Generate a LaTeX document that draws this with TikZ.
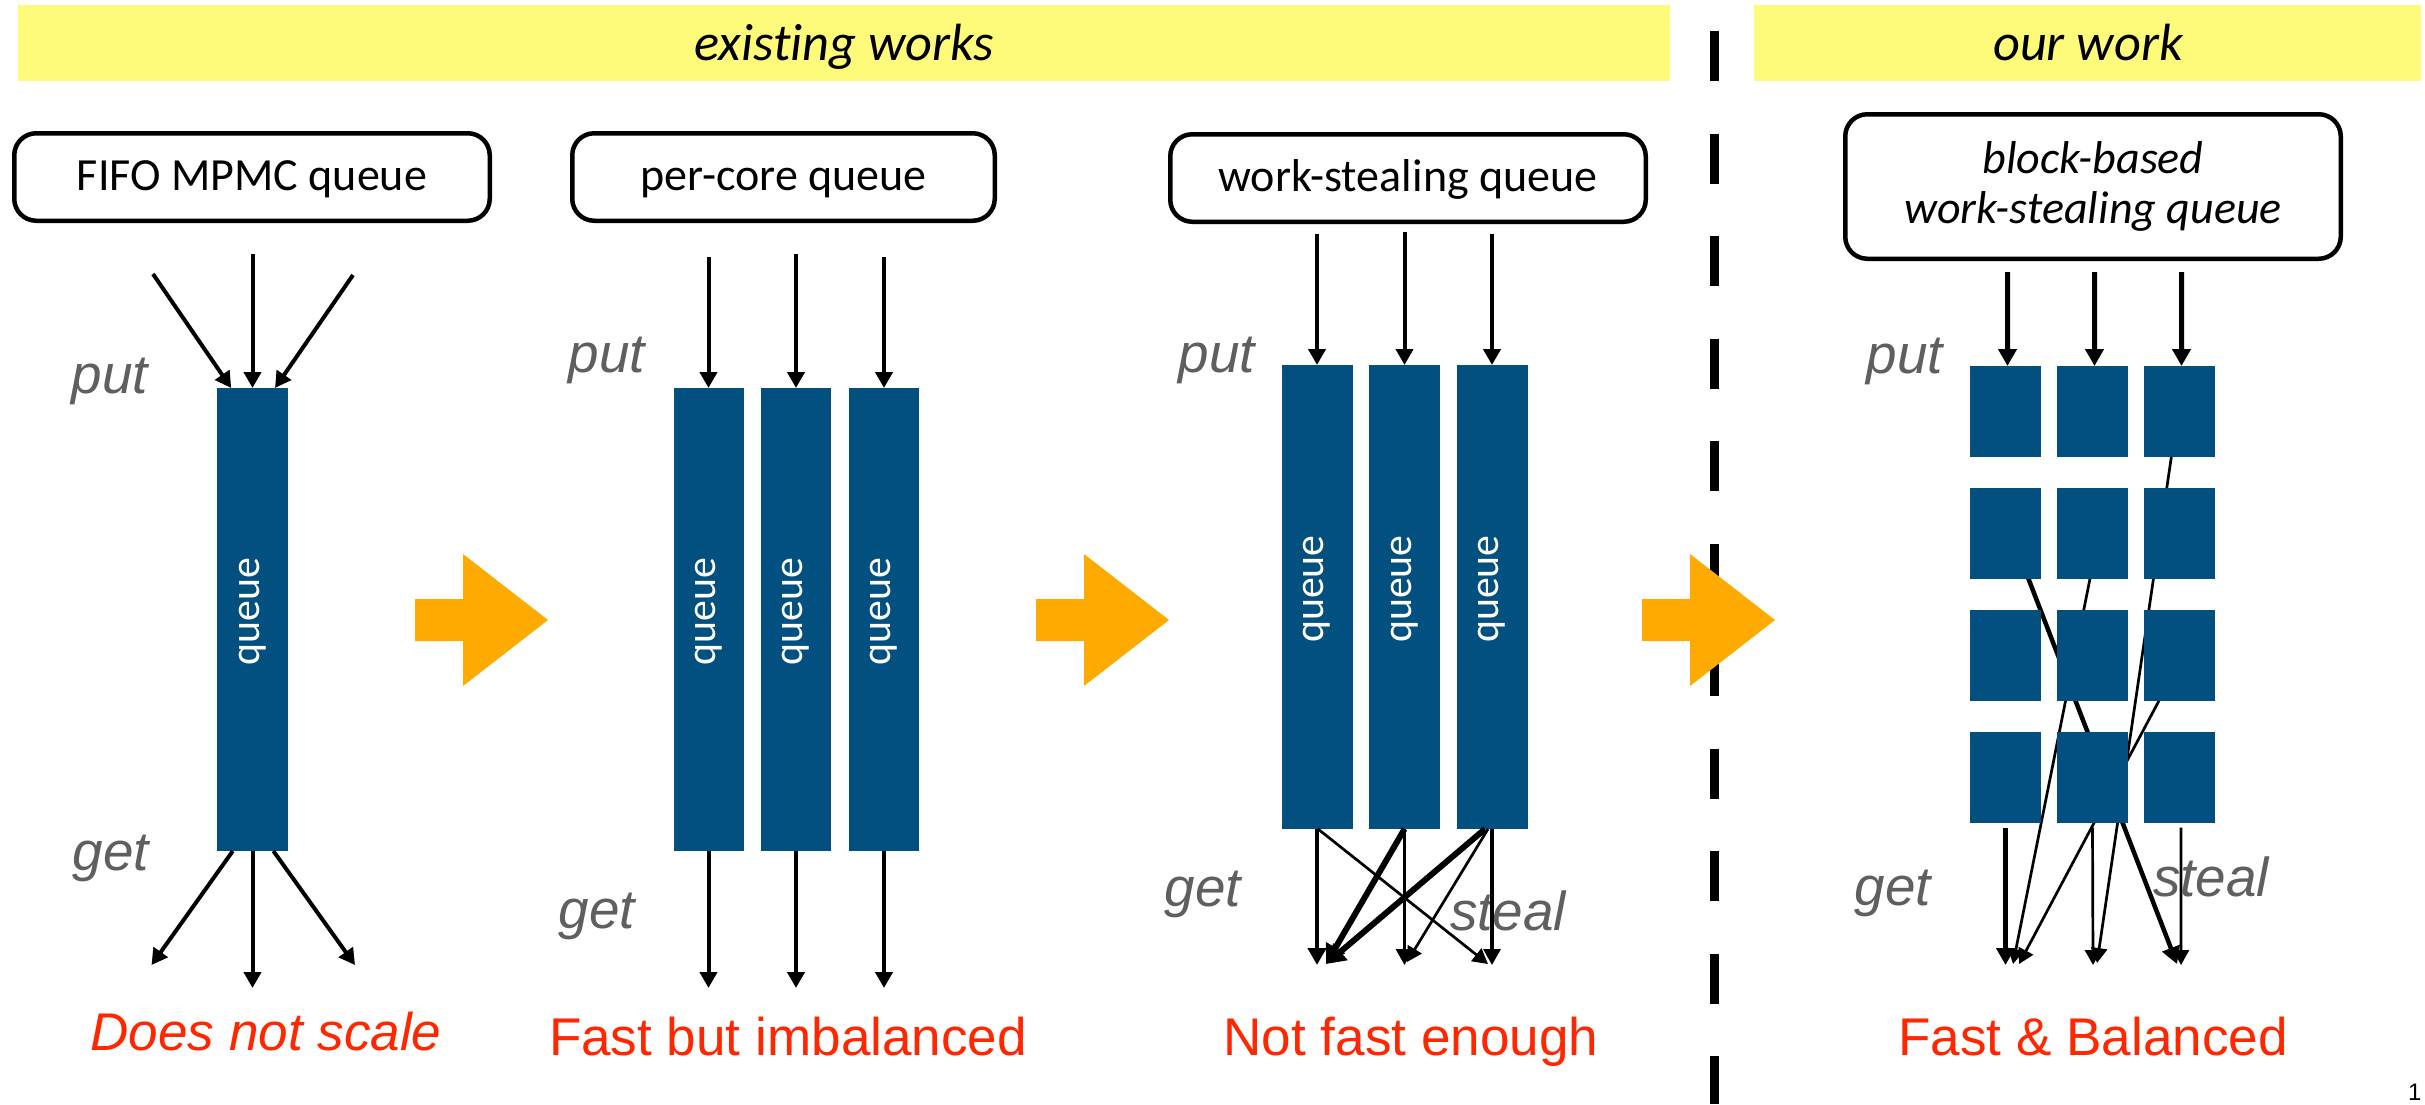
\documentclass[tikz,border=0pt]{standalone}
\usepackage{fontspec}
\setmainfont{Carlito}[Ligatures=NoCommon]
\newfontfamily\arialfont{Liberation Sans}
\usetikzlibrary{arrows.meta,calc}

\definecolor{banneryellow}{RGB}{255,251,122}
\definecolor{qblue}{RGB}{2,80,128}
\definecolor{floworange}{RGB}{255,170,0}
\definecolor{verdict}{RGB}{255,38,0}
\definecolor{oplabel}{RGB}{95,95,95}

\begin{document}
\begin{tikzpicture}[x=0.1mm,y=-0.1mm,
  banner/.style={fill=banneryellow, inner sep=0, outer sep=0, minimum height=7.6mm},
  bannertext/.style={font=\fontsize{14.9}{17}\selectfont\itshape, anchor=base, inner sep=0},
  kindbox/.style={draw, line width=0.45mm, rounded corners=2.2mm, inner sep=0, outer sep=0,
    font=\fontsize{13.1}{14.2}\selectfont, align=center},
  onebox/.style={kindbox, minimum height=8.75mm, text height=3.45mm, text depth=0.7mm},
  qbar/.style={fill=qblue, inner sep=0, outer sep=0, minimum width=7.05mm},
  qblock/.style={fill=qblue, inner sep=0, outer sep=0, minimum width=7.1mm, minimum height=9.1mm},
  qtext/.style={text=white, rotate=90, xshift=0.8mm, font=\fontsize{11.9}{12}\selectfont, inner sep=0},
  oplbl/.style={text=oplabel, font=\arialfont\itshape\fontsize{15.6}{17}\selectfont, inner sep=0},
  verdicttext/.style={text=verdict, font=\arialfont\fontsize{15.1}{17}\selectfont, anchor=base, inner sep=0},
  flow/.style={line width=0.4mm, -{Triangle[length=1.6mm,width=1.7mm]}},
  bigflow/.style={line width=0.48mm, -{Triangle[length=1.7mm,width=1.8mm]}},
  thinflow/.style={line width=0.27mm, -{Triangle[length=1.5mm,width=1.6mm]}},
  midflow/.style={line width=0.32mm, -{Triangle[length=1.6mm,width=1.7mm]}},
  thickflow/.style={line width=0.6mm, -{Triangle[length=1.9mm,width=2.1mm]}},
  stealline/.style={line width=0.27mm},
]
\useasboundingbox (0,0) rectangle (2425,1104);
\fill[white] (0,0) rectangle (2425,1104);

% headings
\node[banner, minimum width=165.2mm] (ban1) at (844,43) {};
\node[bannertext] (ban1t) at (844.5,60.7) {existing works};
\node[banner, minimum width=66.7mm] (ban2) at (2087.5,43) {};
\node[bannertext] (ban2t) at (2088,60.7) {our work};

% divider between existing and new designs
\coordinate (dv1) at (1714.5,31);
\coordinate (dv2) at (1714.5,1104);
\draw[line width=0.9mm, dash pattern=on 5mm off 5.25mm] (dv1) -- (dv2);

% queue kinds
\node[onebox, minimum width=47.55mm] (k1) at (252,177) {FIFO MPMC queue};
\node[onebox, minimum width=42.25mm] (k2) at (783.5,177) {per-core queue};
\node[onebox, minimum width=47.55mm] (k3) at (1408,178) {work-stealing queue};
\node[kindbox, font=\fontsize{13.1}{14.2}\selectfont\itshape, minimum width=49.55mm, minimum height=14.45mm] (k4) at (2093,186.5) {block-based\\work-stealing queue};

% operation labels
\node[oplbl] (put1) at (110,381) {put};
\node[oplbl] (get1) at (111,858.5) {get};
\node[oplbl] (put2) at (607,360) {put};
\node[oplbl] (get2) at (597,916.5) {get};
\node[oplbl] (put3) at (1217,360) {put};
\node[oplbl] (get3) at (1203,894) {get};
\node[oplbl] (steal3) at (1508,911) {steal};
\node[oplbl] (put4) at (1905,361) {put};
\node[oplbl] (get4) at (1893,893) {get};
\node[oplbl] (steal4) at (2211,877) {steal};

% ---- FIFO MPMC queue
\node[qbar, minimum height=46.3mm] (a1) at (252.5,619.5) {};
\node[qtext] (a1t) at (a1.center) {queue};
\coordinate (s1in1) at (153,274);
\coordinate (s1in2) at (252.5,254);
\coordinate (s1in3) at (353,275);
\coordinate (s1out1) at (151.5,965);
\coordinate (s1out2) at (252.5,988);
\coordinate (s1out3) at (355,965);
\draw[flow] (s1in1) -- ([xshift=-2.13mm]a1.north);
\draw[flow] (s1in2) -- (a1.north);
\draw[flow] (s1in3) -- ([xshift=2.25mm]a1.north);
\draw[flow] ([xshift=-1.97mm]a1.south) -- (s1out1);
\draw[flow] (a1.south) -- (s1out2);
\draw[flow] ([xshift=2.09mm]a1.south) -- (s1out3);

% ---- per-core queues
\foreach \n/\x/\top in {1/708.5/257, 2/796/254, 3/884/257} {
  \node[qbar, minimum width=7.0mm, minimum height=46.3mm] (p\n) at (\x,619.5) {};
  \node[qtext] (p\n t) at (p\n.center) {queue};
  \coordinate (p\n in) at (\x,\top);
  \coordinate (p\n out) at (\x,988);
  \draw[flow] (p\n in) -- (p\n.north);
  \draw[flow] (p\n.south) -- (p\n out);
}

% ---- work-stealing queues
\foreach \n/\x/\top in {1/1317/234, 2/1404.5/232, 3/1492/234} {
  \node[qbar, minimum width=7.1mm, minimum height=46.4mm] (w\n) at (\x,597) {};
  \node[qtext] (w\n t) at (w\n.center) {queue};
  \coordinate (w\n in) at (\x,\top);
  \draw[flow] (w\n in) -- (w\n.north);
}
\coordinate (g1) at (1317,965);
\coordinate (g1b) at (1326,964);
\coordinate (g2) at (1404.5,965);
\coordinate (g2b) at (1407,962);
\coordinate (g3) at (1492,965);
\coordinate (g3b) at (1488,964);
\draw[bigflow] (w1.south) -- (g1);
\draw[thinflow] ([xshift=0.1mm]w1.south) -- (g3b);
\draw[thickflow] (w2.south) -- (g1b);
\draw[midflow] (w2.south) -- (g2);
\draw[thickflow] ([xshift=-0.7mm]w3.south) -- (g1b);
\draw[thinflow] ([xshift=-0.4mm]w3.south) -- (g2b);
\draw[midflow] (w3.south) -- (g3);

% ---- block-based work-stealing queue
\coordinate (h1) at (2005.5,965);
\coordinate (h1b) at (2013,964);
\coordinate (h1c) at (2019,964);
\coordinate (h2) at (2093,965);
\coordinate (h2b) at (2097,963);
\coordinate (h3) at (2181,965);
\coordinate (h3b) at (2177,964);
\foreach \r/\y in {1/411.5, 2/533.5, 3/655.5, 4/777.5} {
  \foreach \c/\x in {1/2005.5, 2/2092.5, 3/2179.5} {
    \coordinate (c\r\c) at (\x,\y);
  }
}
% block chains that cross behind the blocks
\draw[line width=0.45mm, -{Triangle[length=1.7mm,width=1.8mm]}] ([xshift=0.55mm]c21) -- (h3b);
\draw[stealline, -{Triangle[length=1.5mm,width=1.6mm]}] ([xshift=0.65mm]c22) -- (h1b);
\draw[stealline, -{Triangle[length=1.5mm,width=1.6mm]}] ([xshift=-0.15mm]c13) -- (h2b);
\draw[stealline, -{Triangle[length=1.5mm,width=1.6mm]}] ([xshift=0.35mm]c33) -- (h1c);
\foreach \r in {1,2,3,4} {
  \foreach \c in {1,2,3} {
    \node[qblock] (b\r\c) at (c\r\c) {};
  }
}
\foreach \c/\x in {1/2007.5, 2/2094.5, 3/2181.5} {
  \coordinate (b\c in) at (\x,272);
  \draw[line width=0.5mm, -{Triangle[length=1.7mm,width=1.8mm]}] (b\c in) -- ([xshift=0.2mm]b1\c.north);
}
\draw[bigflow] ([yshift=-0.45mm]b41.south) -- (h1);
\draw[thinflow] ([yshift=-0.45mm]b42.south) -- (h2);
\draw[thinflow] ([xshift=0.15mm,yshift=-0.45mm]b43.south) -- (h3);

% transitions between designs
\foreach \x in {415,1036,1642} {
  \fill[floworange] (\x,599) -- (\x+48,599) -- (\x+48,554) -- (\x+133,620)
    -- (\x+48,686) -- (\x+48,641) -- (\x,641) -- cycle;
}

% verdicts
\node[verdicttext, font=\arialfont\itshape\fontsize{15.1}{17}\selectfont] (v1) at (266,1050) {Does not scale};
\node[verdicttext] (v2) at (788,1055) {Fast but imbalanced};
\node[verdicttext] (v3) at (1411,1055) {Not fast enough};
\node[verdicttext] (v4) at (2093,1055) {Fast \& Balanced};

% slide number
\node[font=\arialfont\fontsize{6.8}{8}\selectfont, anchor=base east, inner sep=0] (pg) at (2422,1100) {1};
\end{tikzpicture}
\end{document}
